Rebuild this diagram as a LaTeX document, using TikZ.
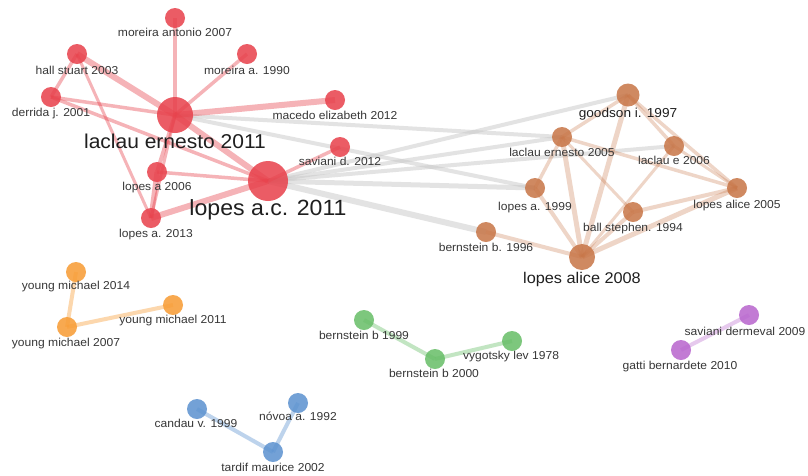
\documentclass[tikz,border=0pt]{standalone}
\usepackage{fontspec}
\setmainfont{Liberation Sans}[FakeStretch=1.05]
\pgfdeclarelayer{bg}
\pgfsetlayers{bg,main}
\definecolor{rnode}{RGB}{232,66,76}
\definecolor{bnode}{RGB}{200,118,72}
\definecolor{onode}{RGB}{248,156,52}
\definecolor{gnode}{RGB}{104,190,104}
\definecolor{unode}{RGB}{92,146,208}
\definecolor{pnode}{RGB}{184,102,206}
\definecolor{gedge}{RGB}{200,200,200}
\definecolor{labtxt}{RGB}{55,55,55}
\tikzset{
  vtx/.style={circle, inner sep=0pt, minimum size=#1, draw=none, fill opacity=0.86},
  vtx/.default=20pt,
  lab/.style={anchor=base, inner sep=0pt, text=labtxt, font=\fontsize{11.5}{12}\selectfont},
  biglab/.style={anchor=base, inner sep=0pt, text=black!88, font=\fontsize{#1}{#1}\selectfont},
  redge/.style={draw=rnode, draw opacity=0.4, line width=#1},
  bedge/.style={draw=bnode, draw opacity=0.3, line width=#1},
  gyedge/.style={draw=gedge, draw opacity=0.5, line width=#1},
  oedge/.style={draw=onode, draw opacity=0.4, line width=#1},
  gnedge/.style={draw=gnode, draw opacity=0.4, line width=#1},
  uedge/.style={draw=unode, draw opacity=0.4, line width=#1},
  pedge/.style={draw=pnode, draw opacity=0.35, line width=#1},
}
\begin{document}
\begin{tikzpicture}[x=1pt,y=-1pt]
\useasboundingbox (0,0) rectangle (808,475);

% red cluster
\node[vtx, fill=rnode] (mant) at (175,18) {};
\node[vtx, fill=rnode] (hall) at (77,54) {};
\node[vtx, fill=rnode] (mor90) at (247,54) {};
\node[vtx, fill=rnode] (derr) at (51,97) {};
\node[vtx, fill=rnode] (mac) at (335,100) {};
\node[vtx=36pt, fill=rnode] (lac11) at (175,115) {};
\node[vtx, fill=rnode] (sav12) at (340,147) {};
\node[vtx, fill=rnode] (lop06) at (157,172) {};
\node[vtx=40pt, fill=rnode] (lopac) at (268,181) {};
\node[vtx, fill=rnode] (lop13) at (151,218) {};

% brown cluster
\node[vtx=23pt, fill=bnode] (good) at (628,95) {};
\node[vtx, fill=bnode] (le05) at (562,137) {};
\node[vtx, fill=bnode] (le06) at (674,146) {};
\node[vtx, fill=bnode] (la99) at (535,188) {};
\node[vtx, fill=bnode] (la05) at (737,188) {};
\node[vtx, fill=bnode] (ball) at (633,212) {};
\node[vtx, fill=bnode] (bern96) at (486,232) {};
\node[vtx=26pt, fill=bnode] (la08) at (582,257) {};

% orange
\node[vtx, fill=onode] (ym14) at (76,272) {};
\node[vtx, fill=onode] (ym11) at (173,305) {};
\node[vtx, fill=onode] (ym07) at (67,327) {};

% blue
\node[vtx, fill=unode] (cand) at (197,409) {};
\node[vtx, fill=unode] (novo) at (298,403) {};
\node[vtx, fill=unode] (tard) at (273,452) {};

% green
\node[vtx, fill=gnode] (bb99) at (364,320) {};
\node[vtx, fill=gnode] (bb00) at (435,359) {};
\node[vtx, fill=gnode] (vyg) at (512,341) {};

% purple
\node[vtx, fill=pnode] (sav09) at (749,315) {};
\node[vtx, fill=pnode] (gatt) at (681,350) {};

% labels
\node[lab] (mant-l) at (175,36.5) {moreira antonio 2007};
\node[lab] (hall-l) at (77,74) {hall stuart 2003};
\node[lab] (mor90-l) at (247,74) {moreira a. 1990};
\node[lab] (derr-l) at (51,116.5) {derrida j. 2001};
\node[lab] (mac-l) at (335,119) {macedo elizabeth 2012};
\node[biglab=20] (lac11-l) at (175,148) {laclau ernesto 2011};
\node[lab] (sav12-l) at (340,165.5) {saviani d. 2012};
\node[lab] (lop06-l) at (157,190) {lopes a 2006};
\node[biglab=22] (lopac-l) at (268,215) {lopes a.c. 2011};
\node[lab] (lop13-l) at (156,237) {lopes a. 2013};

\node[biglab=13] (good-l) at (628,117) {goodson i. 1997};
\node[lab] (le05-l) at (562,156.5) {laclau ernesto 2005};
\node[lab] (le06-l) at (674,164.3) {laclau e 2006};
\node[lab] (la99-l) at (535,210) {lopes a. 1999};
\node[lab] (la05-l) at (737,208.3) {lopes alice 2005};
\node[lab] (ball-l) at (633,231.7) {ball stephen. 1994};
\node[lab] (bern96-l) at (486,251) {bernstein b. 1996};
\node[biglab=15.5] (la08-l) at (582,283.3) {lopes alice 2008};

\node[lab] (ym14-l) at (76,289.5) {young michael 2014};
\node[lab] (ym11-l) at (173,323.3) {young michael 2011};
\node[lab] (ym07-l) at (66,346) {young michael 2007};

\node[lab] (cand-l) at (196,427.3) {candau v. 1999};
\node[lab] (novo-l) at (298,420.7) {nóvoa a. 1992};
\node[lab] (tard-l) at (273,471.7) {tardif maurice 2002};

\node[lab] (bb99-l) at (364,339.3) {bernstein b 1999};
\node[lab] (bb00-l) at (434,377.3) {bernstein b 2000};
\node[lab] (vyg-l) at (511,359) {vygotsky lev 1978};

\node[lab] (sav09-l) at (745,335) {saviani dermeval 2009};
\node[lab] (gatt-l) at (680,369.3) {gatti bernardete 2010};

\begin{pgfonlayer}{bg}
\fill[white] (0,0) rectangle (808,475);
% gray links between clusters
\draw[gyedge=4] (lac11.center) -- (le05.center);
\draw[gyedge=4] (lac11.center) -- (la99.center);
\draw[gyedge=4] (lopac.center) -- (good.center);
\draw[gyedge=4] (lopac.center) -- (le05.center);
\draw[gyedge=4] (lopac.center) -- (le06.center);
\draw[gyedge=5] (lopac.center) -- (la99.center);
\draw[gyedge=6] (lopac.center) -- (bern96.center);

% red links
\draw[redge=3.5] (lac11.center) -- (mant.center);
\draw[redge=6] (lac11.center) -- (hall.center);
\draw[redge=3.5] (lac11.center) -- (mor90.center);
\draw[redge=3.5] (lac11.center) -- (derr.center);
\draw[redge=6] (lac11.center) -- (mac.center);
\draw[redge=6] (lac11.center) -- (lopac.center);
\draw[redge=4] (lac11.center) -- (lop06.center);
\draw[redge=3] (lac11.center) -- (lop13.center);
\draw[redge=5] (lop06.center) -- (lop13.center);
\draw[redge=3.5] (hall.center) -- (derr.center);
\draw[redge=3] (hall.center) -- (lop13.center);
\draw[redge=3.5] (derr.center) -- (lopac.center);
\draw[redge=3.5] (lop06.center) -- (lopac.center);
\draw[redge=6] (lop13.center) -- (lopac.center);
\draw[redge=3.5] (sav12.center) -- (lopac.center);

% brown links
\draw[bedge=3.5] (good.center) -- (le05.center);
\draw[bedge=5] (good.center) -- (la08.center);
\draw[bedge=3.5] (good.center) -- (le06.center);
\draw[bedge=3.5] (good.center) -- (la05.center);
\draw[bedge=3] (le06.center) -- (la05.center);
\draw[bedge=3.5] (le05.center) -- (la05.center);
\draw[bedge=3.5] (le05.center) -- (la99.center);
\draw[bedge=5] (le05.center) -- (la08.center);
\draw[bedge=3] (le05.center) -- (ball.center);
\draw[bedge=3] (le06.center) -- (la08.center);
\draw[bedge=4] (la99.center) -- (la08.center);
\draw[bedge=4] (ball.center) -- (la08.center);
\draw[bedge=4] (ball.center) -- (la05.center);
\draw[bedge=5] (la08.center) -- (la05.center);
\draw[bedge=4] (bern96.center) -- (la08.center);

% small clusters
\draw[oedge=4] (ym14.center) -- (ym07.center);
\draw[oedge=4] (ym07.center) -- (ym11.center);
\draw[uedge=4] (cand.center) -- (tard.center);
\draw[uedge=4] (novo.center) -- (tard.center);
\draw[gnedge=4] (bb99.center) -- (bb00.center);
\draw[gnedge=4] (bb00.center) -- (vyg.center);
\draw[pedge=4] (gatt.center) -- (sav09.center);
\end{pgfonlayer}
\end{tikzpicture}
\end{document}
